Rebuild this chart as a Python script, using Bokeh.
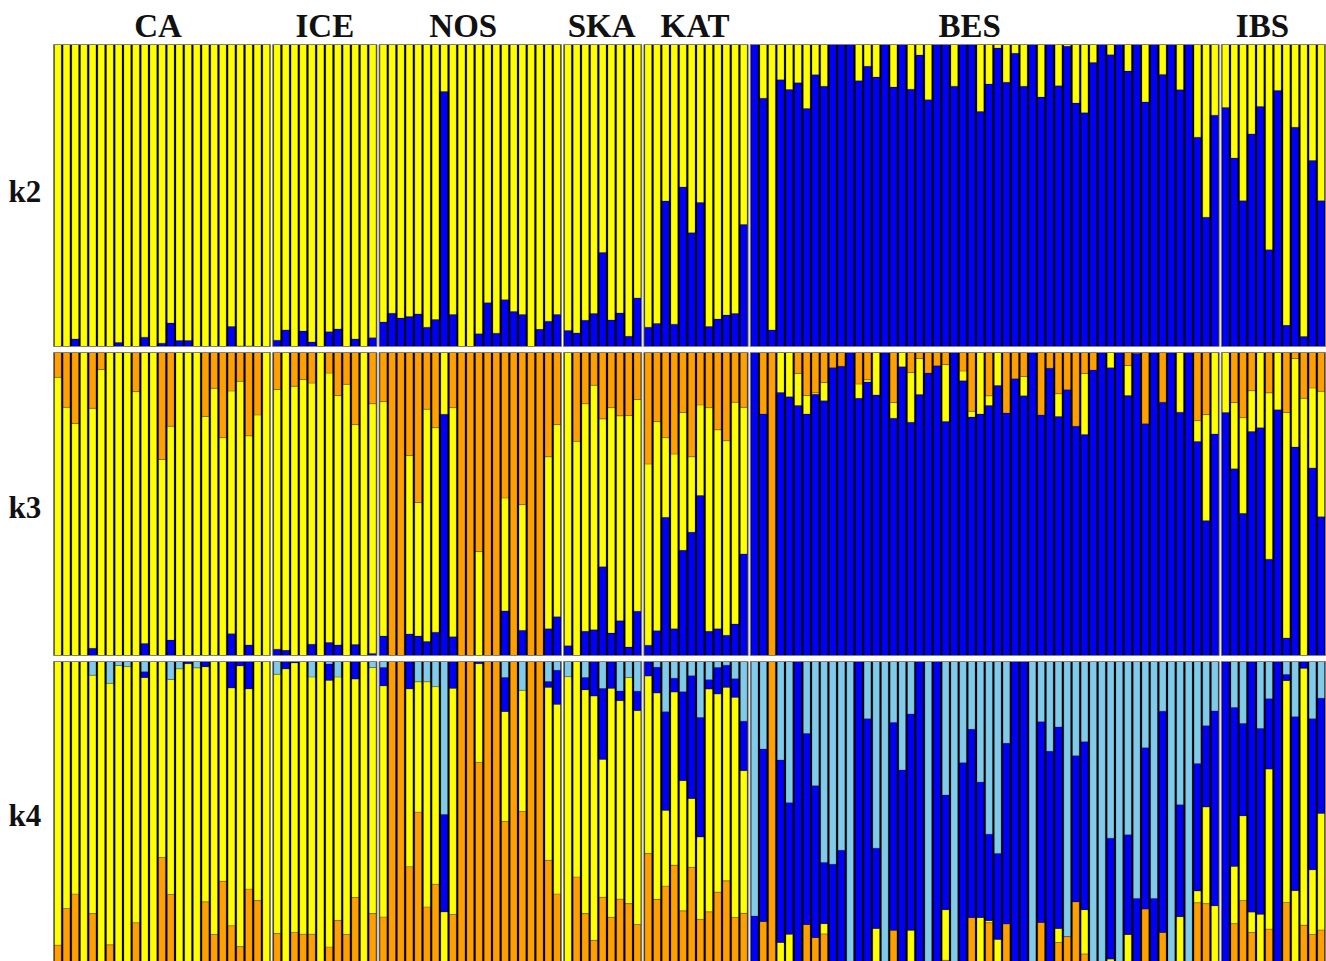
from bokeh.plotting import figure
from bokeh.layouts import column
from bokeh.models import Range1d, ColumnDataSource
from bokeh.core.properties import value
from bokeh.embed import file_html
from bokeh.resources import INLINE

GROUPS = ["CA", "ICE", "NOS", "SKA", "KAT", "BES", "IBS"]
SIZES = [25, 12, 21, 9, 12, 54, 12]
ROW_LABELS = ["k2", "k3", "k4"]

YELLOW = "#FFFF00"
BLUE = "#0000F6"
ORANGE = "#FFA000"
LIGHT = "#80CAEA"

# k2: blue share (%), yellow is the rest
K2_BLUE_CA = [0,0,2.5,0,0,0,0,1.3,0,0,3.1,0,1.1,7.8,2,2,0,0,0,0,6.6,.2,.2,0,0]
K2_BLUE_ICE = [2.1,5.5,0,5.1,1.5,0,4.9,5.8,0,2.5,0,2.9]
K2_BLUE_NOS = [8.1,11,9.4,9.9,10.8,6.4,8.9,84.4,10.6,0,0,4.2,14.5,4.4,15.5,11.6,10.6,0,5.7,8.4,10.6]
K2_BLUE_SKA = [5.3,4.5,8.7,10.9,31.1,8.8,11.1,3.4,16.1]
K2_BLUE_KAT = [6.4,7.6,48.2,7.4,52.8,37.7,47.7,6.6,9.1,10.4,10.9,40.4]
K2_BLUE_BES = [100,82.2,5.5,88.3,85.1,87.3,78.8,90,86.2,100,100,100,88,92.8,89.2,100,85.9,100,85.2,96.5,81.7,100,100,86.2,100,100,77.8,86.9,98.8,87.5,97.1,86.2,100,82.6,100,86.3,99.4,80.6,77.4,94,100,96.6,100,91.2,100,81,100,90.1,100,85,100,69.3,42.8,76.6]
K2_BLUE_IBS = [79.1,62.4,48.3,70.4,79.5,32,84.8,7,72.6,3.3,61.6,48.3]

# k3: orange and blue shares (%), yellow is the rest
K3_ORANGE_CA = [8.2,18.1,23.4,0,18.4,5.6,0,0,0,12.9,0,0,35.3,24.3,0,0,0,21.1,11.8,28.1,12.7,9.5,27.5,20.6,0]
K3_BLUE_CA = [0,0,0,0,2.4,0,0,0,0,0,4,0,0,5.1,0,0,0,0,0,0,7.2,0,3.5,0,0]
K3_ORANGE_ICE = [12.2,0,11.1,8.9,10.1,0,6.8,14.2,10.5,23.8,0,16.9]
K3_BLUE_ICE = [2.1,1.7,0,0,3.7,0,4.3,3.5,0,3.6,0,.7]
K3_ORANGE_NOS = [16.2,100,100,34,49.5,18.7,24.8,0,18.2,100,100,65.7,100,100,48,100,50.2,100,100,34.4,23.8]
K3_BLUE_NOS = [6.4,0,0,7.1,6.4,4.6,7.7,79.6,6.2,0,0,0,0,0,14.7,0,8.3,0,0,8.8,12.8]
K3_ORANGE_SKA = [0,29.3,16.9,10.8,21.9,18.2,20.9,20.8,15.5]
K3_BLUE_SKA = [3.2,0,8,8.5,29.3,7.4,11.5,2.8,14.6]
K3_ORANGE_KAT = [36.8,22.8,28.1,33.5,19.8,34.4,17.3,18.2,25.5,29.1,16.4,18.1]
K3_BLUE_KAT = [3.4,8.2,45.6,8.8,34.7,40.7,52.8,8,8.8,6.7,10.4,33.5]
K3_ORANGE_BES = [0,20.3,100,0,0,6.9,14.2,13.3,9.9,5,4.5,0,10.4,9,0,0,16.5,0,6.6,2,6.8,4.4,4,0,6.1,19.4,0,14.3,0,20,8.7,7.9,0,20.6,5.2,13.6,12.3,24.3,6.9,5.8,0,0,0,4.3,.3,23.5,0,16.4,0,0,0,22.5,20.5,0]
K3_BLUE_BES = [100,79.7,0,86.8,85.4,82.5,79.7,86.2,84.1,95,95.5,100,84.9,90.3,86,100,78.3,95.3,77,86.1,93.2,95.6,77.2,100,90.7,78.7,79.7,82.5,89.1,80,91.3,85.7,100,79.4,94.8,78.9,87.7,75.7,72.9,94.2,100,95,100,85.8,99.7,76.5,100,83.6,100,80.3,100,70.6,44.5,73.1]
K3_ORANGE_IBS = [0,16.5,21.5,12.6,0,13.3,0,19.8,2,15.1,11.7,12.8]
K3_BLUE_IBS = [80.2,61.6,46.9,73.9,75.2,31.8,81.1,5.8,68.8,0,61.9,45.8]

# k4: light blue, blue and orange shares (%), yellow is the rest
K4_LIGHT_CA = [0,0,0,0,4.5,0,7.2,1.3,1.7,0,3.4,0,0,5.9,2.4,0,2.1,0,0,0,0,0,0,0,0]
K4_BLUE_CA = [0,0,0,0,0,0,0,0,0,0,1.9,0,0,0,0,.7,0,1.7,0,0,8.7,1.4,9,0,0]
K4_ORANGE_CA = [6.4,18.5,23.3,0,16.8,0,6.5,0,0,13.8,0,0,35.3,23.1,0,0,0,20.7,9.9,27.5,12.8,5.9,24.9,21.1,0]
K4_LIGHT_ICE = [4.2,0,0,0,5.1,0,.8,5.1,0,0,0,2]
K4_BLUE_ICE = [0,2.4,.4,0,0,0,5.4,0,0,5.8,0,0]
K4_ORANGE_ICE = [10.2,0,10.6,10,10,0,5.8,14.5,9.9,22.1,0,16.8]
K4_LIGHT_NOS = [2,0,0,0,6.7,6.7,8.3,50.5,0,0,0,0,0,0,5.3,0,9.5,0,0,6.6,2.9]
K4_BLUE_NOS = [6,0,0,9,0,0,0,32.1,8.8,0,0,.7,0,0,11.2,0,0,0,0,1.9,11.2]
K4_ORANGE_NOS = [15.7,100,100,32.3,50.3,19,26.5,0,16.5,100,100,66.7,100,100,47.2,100,50.5,100,100,34.4,23.3]
K4_LIGHT_SKA = [5,0,5.3,0,8.9,0,9.7,5.3,9.8]
K4_BLUE_SKA = [0,0,4,11.4,23.4,8.8,3.2,0,6.4]
K4_ORANGE_SKA = [0,28.9,16.8,8,22.2,15.6,21.6,20.1,13.2]
K4_LIGHT_KAT = [0,1.9,16.6,5.5,10,4.7,18.5,6,2,1.2,5.7,19.7]
K4_BLUE_KAT = [4.8,8.5,32.5,4.6,29.3,40.5,39.4,3.1,8.7,7.3,6.1,16.3]
K4_ORANGE_KAT = [36.6,21.5,25.9,32.8,17.7,32.1,14.9,17.4,23.9,27.6,15.5,16.9]
K4_LIGHT_BES = [84,28.9,0,32.5,46.6,0,23.8,41,66.3,66.9,62.3,100,0,18.9,61.6,100,20.1,35.8,17.3,0,100,0,44.1,100,33.4,22.4,39.8,57,63.4,27,0,0,100,19.9,29.6,21.6,90.8,31.1,26.5,100,100,58.3,100,57.2,78.2,28.5,78.2,16.4,100,47.3,100,33.7,21.2,16.3]
K4_BLUE_BES = [16,56.9,0,60.2,43.4,100,63,50.1,20.2,33.1,37.7,0,100,81.1,26.5,0,68.6,64.2,71.4,100,0,100,37.8,0,66.6,62.1,44.7,28.5,28.3,59.6,100,100,0,66.2,70.4,66.5,0,48.2,55.4,0,0,39.9,0,32.9,21.8,53.2,21.8,73,0,36.9,0,42,26.8,64.3]
K4_ORANGE_BES = [0,14.2,100,0,0,0,13.2,8.9,10.1,0,0,0,0,0,0,0,11.3,0,0,0,0,0,1.4,0,0,15.5,0,13.8,0,13.4,0,0,0,13.9,0,7.3,9.2,20.7,3.5,0,0,0,0,0,0,18.3,0,10.6,0,0,0,20.4,20.1,0]
K4_LIGHT_IBS = [0,15.2,20.5,0,22.1,12.3,0,4.3,18.2,0,18.9,12.1]
K4_BLUE_IBS = [100,52.4,30.4,82.7,61.3,23.2,100,2,57.4,2.2,49.8,38]
K4_ORANGE_IBS = [0,13.5,21.1,10.6,0,11.7,0,20.5,0,13,9.9,11.4]

G = globals()
def series(name):
    out = []
    for g, n in zip(GROUPS, SIZES):
        vals = G[f"{name}_{g}"]
        assert len(vals) == n, (name, g, len(vals))
        out += vals
    return out

GAP = 0.25
BAR_W = 0.78
group_starts = []
pos = 0.0
bar_x = []
for n in SIZES:
    group_starts.append(pos)
    bar_x += [pos + i + 0.5 for i in range(n)]
    pos += n + GAP
x_max = pos - GAP

def stacked(layers):
    data = dict(x=[], bottom=[], top=[], color=[])
    known = [v for v, _ in layers if v is not None]
    for i, x in enumerate(bar_x):
        rest = 100 - sum(v[i] for v in known)
        y = 0.0
        for v, c in layers:
            h = rest if v is None else v[i]
            if h > 0.25:
                data["x"].append(x)
                data["bottom"].append(y)
                data["top"].append(min(100, y + h))
                data["color"].append(c)
            y += h
    return ColumnDataSource(data)

k2 = stacked([(series("K2_BLUE"), BLUE), (None, YELLOW)])
k3 = stacked([(series("K3_BLUE"), BLUE), (None, YELLOW), (series("K3_ORANGE"), ORANGE)])
k4 = stacked([(series("K4_ORANGE"), ORANGE), (None, YELLOW), (series("K4_BLUE"), BLUE), (series("K4_LIGHT"), LIGHT)])

PAGE_L, PAGE_T = 0, 0        # where the canvas lands in the picture
CANVAS_W, CANVAS_B = 1326, 961
PANEL_L, PANEL_R = 53, 1325
sx = (PANEL_R - PANEL_L) / x_max
x0 = (PAGE_L - PANEL_L) / sx
x1 = x0 + CANVAS_W / sx
LABEL_X = x0 + 8 / sx
TITLE_PX = [-4, 0, -7, -1, -1, -15, -11]   # title offset from group centre, px

def panel(src, fig_top, fig_bottom, y100, y0, label, label_page_y):
    per = (y0 - y100) / 100.0
    p = figure(width=CANVAS_W, height=fig_bottom - fig_top, output_backend="svg", toolbar_location=None,
               x_range=Range1d(x0, x1),
               y_range=Range1d((y0 - fig_bottom) / per, (y0 - fig_top) / per),
               x_axis_location=None, y_axis_location=None,
               min_border=0)
    p.grid.visible = False
    p.outline_line_color = None
    lefts = group_starts
    rights = [s + n for s, n in zip(group_starts, SIZES)]
    p.quad(left=lefts, right=rights, bottom=0, top=100, fill_color="black", line_color=None)
    p.vbar(x="x", bottom="bottom", top="top", width=BAR_W, source=src, fill_color="color",
           line_color="black", line_alpha=0.3, line_width=0.7)
    p.quad(left=lefts, right=rights, bottom=0, top=100, fill_color=None, line_color="#808080", line_width=1)
    p.text(x=[LABEL_X], y=[(y0 - label_page_y) / per], text=[label], text_font=value("Liberation Serif"),
           text_font_style="bold", text_font_size="31px", text_baseline="middle", text_color="#111111")
    return p, per, y0

p1, per1, y01 = panel(k2, PAGE_T, 349, 44, 346, ROW_LABELS[0], 191)
p2, _, _ = panel(k3, 349, 658, 352, 655, ROW_LABELS[1], 507)
p3, _, _ = panel(k4, 658, CANVAS_B, 661, 964, ROW_LABELS[2], 815)

p1.text(x=[s + n / 2 + d / sx for s, n, d in zip(group_starts, SIZES, TITLE_PX)],
        y=[(y01 - 25) / per1] * len(GROUPS), text=GROUPS,
        text_font=value("Liberation Serif"), text_font_style="bold", text_font_size="33px",
        text_align="center", text_baseline="alphabetic", text_color="#111111")

page = column(p1, p2, p3, spacing=0)
open("out.html", "w").write(file_html(page, INLINE))
